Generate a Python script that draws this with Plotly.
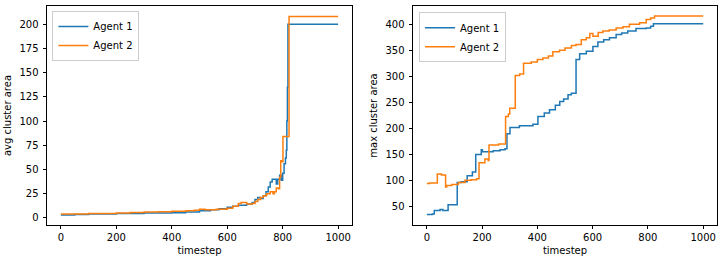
import plotly.graph_objects as go

# Left panel: avg cluster area
avg_t1 = [0, 50, 100, 200, 300, 400, 450, 500, 540, 570, 600, 620, 640, 670, 690, 700, 710, 720, 730, 740, 748, 755, 762, 777, 782, 789, 795, 800, 805, 810, 813, 815, 817, 819, 1000]
avg_v1 = [3, 3.5, 4, 4.5, 5, 5.3, 6, 7.5, 8.5, 9.5, 11, 12, 13, 14.5, 16, 19, 21, 20, 23, 27, 32, 37, 40, 35, 40, 44, 39, 46, 56, 62, 70, 100, 135, 200, 200]
avg_t2 = [0, 100, 200, 250, 300, 350, 400, 450, 480, 500, 520, 560, 600, 620, 640, 650, 670, 690, 700, 710, 720, 730, 742, 755, 765, 770, 777, 785, 789, 793, 797, 801, 823, 1000]
avg_v2 = [4, 4.5, 5, 5.5, 6, 6.3, 6.8, 7.5, 8, 9, 8.5, 9, 10, 12, 15, 16, 14.5, 15, 17, 19, 21, 23, 25, 27, 25, 27, 31, 30, 42, 59, 58, 84, 208, 208]

# Right panel: max cluster area
max_t1 = [0, 20, 27, 48, 58, 77, 110, 125, 146, 165, 177, 197, 201, 240, 265, 283, 290, 301, 335, 384, 402, 425, 444, 465, 481, 495, 511, 523, 540, 553, 577, 601, 619, 640, 661, 685, 705, 727, 757, 794, 810, 820, 1000]
max_v1 = [34, 35, 42, 43.5, 42, 53, 96, 97, 109, 116, 150, 159, 155, 157, 159, 161, 190, 202, 205, 208, 223, 230, 236, 245, 252, 257, 265, 268, 333, 344, 349, 358, 367, 371, 375, 381, 384, 388, 393, 394, 397, 402, 402]
max_t2 = [0, 10, 38, 53, 68, 72, 90, 114, 138, 160, 180, 189, 210, 222, 225, 260, 285, 295, 300, 320, 336, 350, 378, 400, 420, 440, 456, 480, 500, 523, 540, 559, 577, 590, 601, 620, 637, 660, 685, 710, 733, 770, 794, 810, 824, 1000]
max_v2 = [94, 95, 112, 110, 87, 90, 92, 96, 100, 101, 103, 134, 141, 138, 168, 170, 223, 228, 239, 302, 305, 326, 328, 333, 336, 340, 348, 351, 355, 360, 362, 371, 375, 383, 378, 385, 388, 390, 394, 396, 401, 404, 410, 413, 417, 417]

x_ticks = [0, 200, 400, 600, 800, 1000]
avg_ticks = [0, 25, 50, 75, 100, 125, 150, 175, 200]
max_ticks = [50, 100, 150, 200, 250, 300, 350, 400]

C1 = "#1f77b4"
C2 = "#ff7f0e"
FONT = "DejaVu Sans"

fig = go.Figure()
fig.add_trace(go.Scatter(x=avg_t1, y=avg_v1, mode="lines", line=dict(color=C1, width=1.5, shape="hv"),
                         name="Agent 1", xaxis="x", yaxis="y", legend="legend"))
fig.add_trace(go.Scatter(x=avg_t2, y=avg_v2, mode="lines", line=dict(color=C2, width=1.5, shape="hv"),
                         name="Agent 2", xaxis="x", yaxis="y", legend="legend"))
fig.add_trace(go.Scatter(x=max_t1, y=max_v1, mode="lines", line=dict(color=C1, width=1.5, shape="hv"),
                         name="Agent 1", xaxis="x2", yaxis="y2", legend="legend2"))
fig.add_trace(go.Scatter(x=max_t2, y=max_v2, mode="lines", line=dict(color=C2, width=1.5, shape="hv"),
                         name="Agent 2", xaxis="x2", yaxis="y2", legend="legend2"))

ax = dict(showline=True, mirror=True, linecolor="black", linewidth=0.8, showgrid=False, zeroline=False,
          ticks="outside", ticklen=3.5, tickwidth=0.8, tickcolor="black", automargin=False,
          tickfont=dict(family=FONT, size=10, color="black"))

W, H = 724, 262
ml, mr, mt, mb = 47, 7, 6, 37
pw = W - ml - mr

fig.update_layout(
    width=W, height=H,
    margin=dict(l=ml, r=mr, t=mt, b=mb, pad=0),
    plot_bgcolor="white", paper_bgcolor="white",
    font=dict(family=FONT, size=10, color="black"),
    xaxis=dict(ax, domain=[0, (352 - ml) / pw], range=[-50, 1050], tickvals=x_ticks,
               title=dict(text="timestep", font=dict(family=FONT, size=10), standoff=4), anchor="y"),
    yaxis=dict(ax, range=[-7.3, 218.8], tickvals=avg_ticks, ticklabelstandoff=2,
               title=dict(text="avg cluster area", font=dict(family=FONT, size=10), standoff=6), anchor="x"),
    xaxis2=dict(ax, domain=[(413 - ml) / pw, 1.0], range=[-50, 1050], tickvals=x_ticks,
                title=dict(text="timestep", font=dict(family=FONT, size=10), standoff=4), anchor="y2"),
    yaxis2=dict(ax, range=[13.8, 436.2], tickvals=max_ticks, ticklabelstandoff=2,
                title=dict(text="max cluster area", font=dict(family=FONT, size=10), standoff=6), anchor="x2"),
    legend=dict(x=0.008, y=0.977, xanchor="left", yanchor="top", bgcolor="white",
                bordercolor="#cccccc", borderwidth=1, font=dict(family=FONT, size=10),
                itemwidth=30, tracegroupgap=0),
    legend2=dict(x=(419 - ml) / pw, y=0.972, xanchor="left", yanchor="top", bgcolor="white",
                 bordercolor="#cccccc", borderwidth=1, font=dict(family=FONT, size=10),
                 itemwidth=30, tracegroupgap=0),
)

fig.write_html("out.html")
